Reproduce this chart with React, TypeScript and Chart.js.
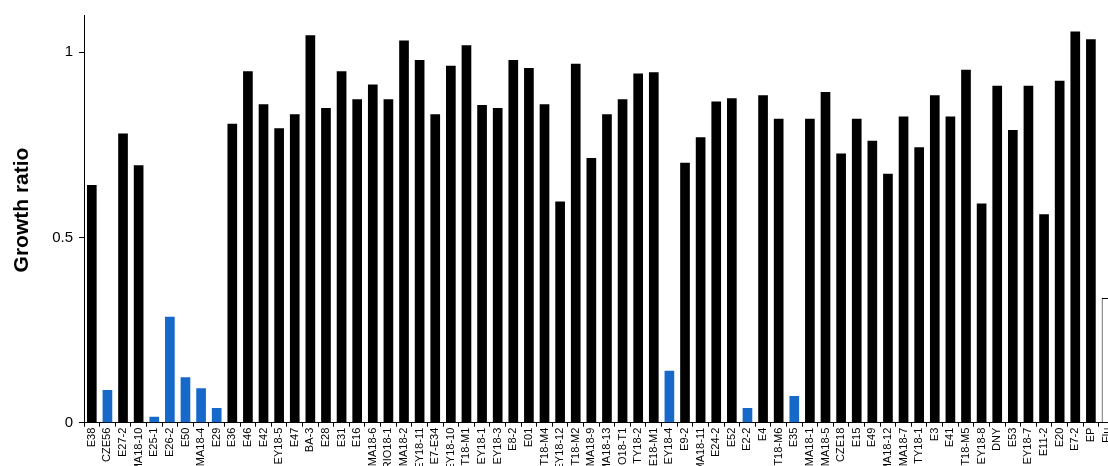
import { useEffect, useRef } from "react";
import { Chart, registerables } from "chart.js";

Chart.register(...registerables);

// Strains along the x axis, in plotted order
const strains = [
  "E38", "CZE56", "E27-2", "MA18-10", "E25-1", "E26-2", "E50", "MA18-4", "E29", "E36",
  "E46", "E42", "EY18-5", "E47", "BA-3", "E28", "E31", "E16", "MA18-6", "RIO18-1",
  "MA18-2", "EY18-11", "E7-E34", "EY18-10", "T18-M1", "EY18-1", "EY18-3", "E8-2", "E01", "T18-M4",
  "EY18-12", "T18-M2", "MA18-9", "MA18-13", "O18-T1", "TY18-2", "E18-M1", "EY18-4", "E9-2", "MA18-11",
  "E24-2", "E52", "E2-2", "E4", "T18-M6", "E35", "MA18-1", "MA18-5", "CZE18", "E15",
  "E49", "MA18-12", "MA18-7", "TY18-1", "E3", "E41", "T18-M5", "EY18-8", "DNY", "E53",
  "EY18-7", "E11-2", "E20", "E7-2", "EP", "Flu",
];

// Growth ratio per strain
const growthRatio = [
  0.642, 0.088, 0.781, 0.695, 0.016, 0.286, 0.123, 0.093, 0.040, 0.807,
  0.949, 0.860, 0.795, 0.833, 1.046, 0.850, 0.949, 0.873, 0.913, 0.873,
  1.032, 0.979, 0.833, 0.964, 1.019, 0.858, 0.850, 0.979, 0.958, 0.860,
  0.597, 0.969, 0.715, 0.833, 0.873, 0.943, 0.946, 0.140, 0.702, 0.771,
  0.867, 0.876, 0.040, 0.884, 0.821, 0.072, 0.821, 0.893, 0.727, 0.821,
  0.761, 0.672, 0.827, 0.744, 0.884, 0.827, 0.953, 0.592, 0.910, 0.790,
  0.910, 0.563, 0.923, 1.056, 1.035, 0.337,
];

// Strains drawn in blue
const sensitiveStrains = ["CZE56", "E25-1", "E26-2", "E50", "MA18-4", "E29", "EY18-4", "E2-2", "E35"];
// Reference strain drawn as an open bar
const controlStrain = "Flu";

const yTicks = [0, 0.5, 1];
const yTitle = "Growth ratio";

const FONT = "'Liberation Sans', Arial, Helvetica, sans-serif";
const CANVAS_W = 1130;
const CANVAS_H = 500;
const PLOT_TOP = 15.3;
const PLOT_BOTTOM = 422.7;
const PLOT_RIGHT = 1114.3;
const AXIS_LEFT = 84;
const TITLE_X = 22;
const TITLE_Y = 210;

// Vertical axis title, placed independently of the axis centre
const yTitlePlugin = {
  id: "yTitle",
  afterDraw(chart: any) {
    const ctx = chart.ctx as CanvasRenderingContext2D;
    ctx.save();
    ctx.translate(TITLE_X, TITLE_Y);
    ctx.rotate(-Math.PI / 2);
    ctx.font = `bold 21px ${FONT}`;
    ctx.fillStyle = "#000000";
    ctx.textAlign = "center";
    ctx.textBaseline = "middle";
    ctx.fillText(yTitle, 0, 0);
    ctx.restore();
  },
};

export default function App() {
  const canvasRef = useRef<HTMLCanvasElement | null>(null);

  useEffect(() => {
    const canvas = canvasRef.current;
    if (!canvas) return;

    const fill = strains.map((s) =>
      s === controlStrain ? "#ffffff" : sensitiveStrains.includes(s) ? "#1769c9" : "#000000"
    );
    const border = strains.map(() => "#000000");
    const borderW = strains.map((s) => (s === controlStrain ? 1 : 0));

    const chart = new Chart(canvas, {
      type: "bar",
      data: {
        labels: strains,
        datasets: [
          {
            data: growthRatio,
            backgroundColor: fill,
            borderColor: border,
            borderWidth: borderW,
            borderSkipped: "bottom",
            barPercentage: 0.62,
            categoryPercentage: 1,
          },
        ],
      },
      options: {
        animation: false,
        responsive: false,
        devicePixelRatio: 1,
        layout: { padding: { top: PLOT_TOP, right: CANVAS_W - PLOT_RIGHT, bottom: 0, left: 0 } },
        plugins: {
          legend: { display: false },
          tooltip: { enabled: false },
        },
        scales: {
          x: {
            type: "category",
            offset: true,
            grid: {
              offset: true,
              drawOnChartArea: false,
              drawTicks: true,
              tickLength: 4,
              color: "#000000",
              lineWidth: 1,
            },
            border: { display: true, color: "#000000", width: 1 },
            ticks: {
              autoSkip: false,
              maxRotation: 90,
              minRotation: 90,
              padding: 1,
              color: "#000000",
              font: { family: FONT, size: 11 },
            },
            afterFit: (scale: any) => {
              scale.height = CANVAS_H - PLOT_BOTTOM;
              scale.paddingLeft = 0;
              scale.paddingRight = 0;
            },
          },
          y: {
            min: 0,
            max: 1.1,
            afterBuildTicks: (scale: any) => {
              scale.ticks = yTicks.map((v) => ({ value: v }));
            },
            grid: {
              drawOnChartArea: false,
              drawTicks: true,
              tickLength: 5,
              color: "#000000",
              lineWidth: 1,
            },
            border: { display: true, color: "#000000", width: 1 },
            ticks: {
              padding: 6,
              color: "#000000",
              font: { family: FONT, size: 15 },
              callback: (value: any) => String(value),
            },
            title: { display: false },
            afterFit: (scale: any) => {
              scale.width = AXIS_LEFT;
              scale.paddingTop = 0;
              scale.paddingBottom = 0;
            },
          },
        },
      },
      plugins: [yTitlePlugin],
    });

    return () => chart.destroy();
  }, []);

  return (
    <div
      style={{
        position: "fixed",
        top: 0,
        left: 0,
        width: 1108,
        height: 466,
        overflow: "hidden",
        background: "#ffffff",
      }}
    >
      <canvas ref={canvasRef} width={CANVAS_W} height={CANVAS_H} style={{ display: "block" }} />
    </div>
  );
}
